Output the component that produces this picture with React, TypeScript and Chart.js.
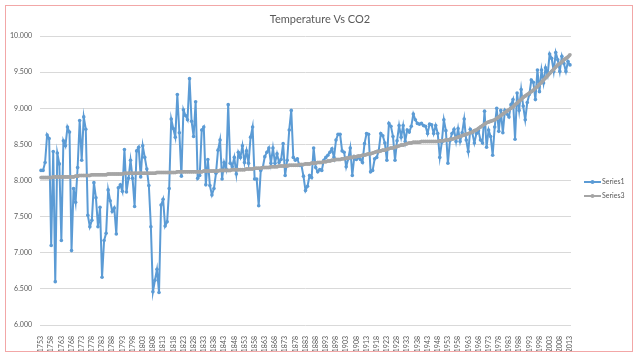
import React, { useEffect, useRef } from 'react';
import { Chart, registerables } from 'chart.js';

Chart.register(...registerables);

const START_YEAR = 1753;
const END_YEAR = 2013;
const years: string[] = [];
for (let y = START_YEAR; y <= END_YEAR; y++) years.push(String(y));

const TITLE = 'Temperature Vs CO2';
const SERIES1_LABEL = 'Series1';
const SERIES3_LABEL = 'Series3';

const yTicks = { min: 6, max: 10, step: 0.5 };

// Series1 (temperature)
const s1_1753_1786 = [
  8.14, 8.14, 8.25, 8.63, 8.58, 7.10, 8.40, 6.60, 8.38, 8.23,
  7.17, 8.55, 8.48, 8.74, 8.67, 7.03, 7.89, 7.70, 8.18, 8.83,
  8.28, 8.88, 8.71, 7.52, 7.36, 7.45, 7.97, 7.76, 7.36, 7.63,
  6.66, 7.17, 7.27, 7.87,
];
const s1_1787_1800 = [
  7.72, 7.57, 7.62, 7.26, 7.90, 7.94, 7.85, 8.43, 7.84, 8.03,
  8.28, 8.03, 7.64, 8.41,
];
const s1_1801_1853 = [
  8.46, 8.05, 8.48, 8.32, 8.16, 7.93, 7.36, 6.46, 6.62, 6.77,
  6.45, 7.66, 7.74, 7.37, 7.43, 7.89, 8.85, 8.72, 8.60, 9.19,
  8.66, 8.06, 8.98, 8.90, 8.84, 9.41, 8.82, 8.61, 9.09, 8.03,
  8.07, 8.70, 8.74, 7.94, 8.29, 7.93, 7.80, 7.89, 8.10, 8.42,
  8.56, 8.02, 8.25, 8.16, 9.05, 8.24, 8.19, 8.32, 8.09, 8.39,
  8.32, 8.48, 8.25,
];
const s1_1854_1905 = [
  8.41, 8.24, 8.60, 8.74, 8.02, 8.02, 7.65, 8.14, 8.18, 8.33,
  8.39, 8.45, 8.24, 8.45, 8.24, 8.37, 8.25, 8.29, 8.51, 8.07,
  8.28, 8.70, 8.97, 8.32, 8.28, 8.30, 8.21, 8.21, 8.06, 7.86,
  7.92, 8.07, 8.04, 8.45, 8.18, 8.12, 8.15, 8.14, 8.28, 8.32,
  8.35, 8.39, 8.44, 8.32, 8.56, 8.64, 8.64, 8.41, 8.39, 8.19,
  8.30, 8.45,
];
const s1_1906_1956 = [
  8.07, 8.33, 8.29, 8.32, 8.29, 8.25, 8.51, 8.65, 8.64, 8.12,
  8.14, 8.30, 8.32, 8.41, 8.65, 8.62, 8.52, 8.28, 8.79, 8.75,
  8.61, 8.28, 8.55, 8.76, 8.60, 8.76, 8.54, 8.70, 8.67, 8.75,
  8.92, 8.84, 8.79, 8.78, 8.79, 8.76, 8.75, 8.65, 8.78, 8.77,
  8.65, 8.76, 8.65, 8.32, 8.53, 8.84, 8.69, 8.24, 8.55, 8.65,
  8.71,
];
const s1_1957_2013 = [
  8.54, 8.72, 8.54, 8.66, 8.85, 8.56, 8.40, 8.71, 8.66, 8.52,
  8.65, 8.69, 8.56, 8.52, 8.96, 8.46, 8.70, 8.61, 8.35, 8.74,
  9.00, 8.68, 8.97, 8.66, 8.97, 8.92, 8.88, 9.05, 9.12, 8.57,
  9.21, 8.97, 9.26, 9.03, 8.84, 9.08, 9.19, 9.39, 9.36, 9.12,
  9.53, 9.23, 9.53, 9.35, 9.56, 9.46, 9.75, 9.69, 9.51, 9.77,
  9.67, 9.51, 9.72, 9.62, 9.51, 9.65, 9.60,
];
const series1 = [
  ...s1_1753_1786, ...s1_1787_1800, ...s1_1801_1853,
  ...s1_1854_1905, ...s1_1906_1956, ...s1_1957_2013,
];

// Series3 (CO2 trend, scaled)
const s3_1753_1799 = [
  8.04, 8.04, 8.04, 8.04, 8.04, 8.04, 8.05, 8.05, 8.05, 8.05, 8.05, 8.05,
  8.05, 8.05, 8.05, 8.05, 8.05, 8.06, 8.06, 8.07, 8.07, 8.07, 8.07, 8.07, 8.07, 8.08, 8.08,
  8.08, 8.08, 8.08, 8.08, 8.08, 8.08, 8.09, 8.09, 8.09, 8.09, 8.09, 8.09, 8.09, 8.09, 8.10, 8.10, 8.10, 8.10, 8.10, 8.10,
];
const s3_1800_1859 = [
  8.10, 8.10, 8.10, 8.10, 8.10, 8.10, 8.10, 8.10, 8.10, 8.10,
  8.11, 8.11, 8.11, 8.11, 8.11, 8.11, 8.11, 8.11, 8.11, 8.11,
  8.12, 8.12, 8.12, 8.12, 8.12, 8.12, 8.12, 8.12, 8.12, 8.12,
  8.12, 8.12, 8.12, 8.13, 8.13, 8.13, 8.13, 8.13, 8.13, 8.13,
  8.13, 8.14, 8.14, 8.14, 8.14, 8.14, 8.14, 8.15, 8.15, 8.15,
  8.15, 8.15, 8.15, 8.15, 8.16, 8.16, 8.16, 8.16, 8.17, 8.17,
];
const s3_1860_1909 = [
  8.17, 8.17, 8.18, 8.18, 8.18, 8.18, 8.19, 8.19, 8.19, 8.19,
  8.20, 8.20, 8.20, 8.20, 8.20, 8.21, 8.21, 8.21, 8.21, 8.21,
  8.22, 8.22, 8.22, 8.23, 8.23, 8.23, 8.24, 8.24, 8.24, 8.25,
  8.25, 8.25, 8.26, 8.26, 8.27, 8.27, 8.28, 8.28, 8.29, 8.29,
  8.29, 8.30, 8.30, 8.31, 8.31, 8.32, 8.32, 8.33, 8.33, 8.34,
];
const s3_1910_1969 = [
  8.34, 8.35, 8.35, 8.36, 8.37, 8.37, 8.38, 8.39, 8.40, 8.40,
  8.41, 8.42, 8.42, 8.43, 8.44, 8.45, 8.45, 8.46, 8.47, 8.48,
  8.49, 8.49, 8.50, 8.51, 8.52, 8.52, 8.53, 8.53, 8.53, 8.53,
  8.54, 8.54, 8.54, 8.54, 8.54, 8.54, 8.54, 8.54, 8.54, 8.55,
  8.55, 8.55, 8.56, 8.56, 8.57, 8.57, 8.58, 8.59, 8.60, 8.61,
  8.62, 8.63, 8.64, 8.65, 8.66, 8.67, 8.69, 8.70, 8.72, 8.74,
];
const s3_1970_2013 = [
  8.76, 8.78, 8.80, 8.81, 8.82, 8.83, 8.84, 8.86, 8.88, 8.90,
  8.92, 8.94, 8.96, 8.98, 9.00, 9.02, 9.05, 9.07, 9.10, 9.12,
  9.15, 9.17, 9.19, 9.21, 9.23, 9.25, 9.28, 9.30, 9.33, 9.36,
  9.39, 9.42, 9.45, 9.48, 9.51, 9.54, 9.57, 9.60, 9.62, 9.64,
  9.67, 9.69, 9.71, 9.74,
];
const series3 = [
  ...s3_1753_1799, ...s3_1800_1859, ...s3_1860_1909, ...s3_1910_1969, ...s3_1970_2013,
];

const BLUE = '#5B9BD5';
const GRAY = '#A5A5A5';
const TEXT = '#595959';
const FONT = 'Lato, "Open Sans", sans-serif';

const overlayPlugin = {
  id: 'overlay',
  afterDraw(chart: any) {
    const { ctx, chartArea } = chart;
    ctx.save();
    // title
    ctx.fillStyle = TEXT;
    ctx.font = `11px ${FONT}`;
    ctx.textAlign = 'center';
    ctx.textBaseline = 'middle';
    ctx.fillText(TITLE, chart.width / 2, 19);
    // legend
    const items = [
      { label: SERIES1_LABEL, color: BLUE, w: 2 },
      { label: SERIES3_LABEL, color: GRAY, w: 2 },
    ];
    const lx = chartArea.right + 13;
    items.forEach((it, k) => {
      const y = 182 + k * 14;
      ctx.strokeStyle = it.color;
      ctx.lineWidth = it.w;
      ctx.beginPath();
      ctx.moveTo(lx, y);
      ctx.lineTo(lx + 17, y);
      ctx.stroke();
      ctx.fillStyle = it.color;
      ctx.beginPath();
      ctx.arc(lx + 8.5, y, 2, 0, Math.PI * 2);
      ctx.fill();
      ctx.fillStyle = TEXT;
      ctx.font = `7px ${FONT}`;
      ctx.textAlign = 'left';
      ctx.textBaseline = 'middle';
      ctx.fillText(it.label, lx + 18, y);
    });
    ctx.restore();
  },
};

export default function App() {
  const ref = useRef<HTMLCanvasElement>(null);
  useEffect(() => {
    if (!ref.current) return;
    const chart = new Chart(ref.current, {
      type: 'line',
      data: {
        labels: years,
        datasets: [
          {
            label: SERIES1_LABEL,
            data: series1,
            borderColor: BLUE,
            backgroundColor: BLUE,
            borderWidth: 2,
            pointRadius: 1.8,
            pointBorderWidth: 0,
            pointBackgroundColor: BLUE,
            tension: 0,
            order: 2,
          },
          {
            label: SERIES3_LABEL,
            data: series3,
            borderColor: GRAY,
            backgroundColor: GRAY,
            borderWidth: 3.5,
            pointRadius: 1.8,
            pointBorderWidth: 0,
            pointBackgroundColor: GRAY,
            tension: 0,
            order: 1,
          },
        ],
      },
      options: {
        responsive: false,
        animation: false,
        devicePixelRatio: 1,
        layout: { padding: { left: 0, right: 69, top: 36, bottom: 0 } },
        plugins: {
          legend: { display: false },
          title: { display: false },
          tooltip: { enabled: false },
        },
        scales: {
          x: {
            type: 'category',
            offset: true,
            grid: { display: false },
            border: { display: false },
            ticks: {
              autoSkip: false,
              minRotation: 90,
              maxRotation: 90,
              padding: 3,
              color: TEXT,
              font: { size: 7, family: FONT },
              callback: (_v: any, i: number) => (i % 5 === 0 ? years[i] : ''),
            },
            afterFit: (s: any) => { s.height = 33; },
          },
          y: {
            min: yTicks.min,
            max: yTicks.max,
            grid: { color: '#D9D9D9', drawTicks: false, lineWidth: 1 },
            border: { display: false },
            ticks: {
              stepSize: yTicks.step,
              padding: 8,
              color: TEXT,
              font: { size: 7, family: FONT },
              callback: (v: any) => Number(v).toFixed(3),
            },
            afterFit: (s: any) => { s.width = 40; },
          },
        },
      },
      plugins: [overlayPlugin],
    });
    return () => chart.destroy();
  }, []);
  return (
    <div style={{ position: 'fixed', left: 0, top: 0, width: 640, height: 358, background: '#fff' }}>
      <canvas ref={ref} width={640} height={358} style={{ display: 'block' }} />
      <div
        style={{
          position: 'absolute', left: 5, top: 5, width: 626, height: 345,
          border: '1px solid #F2A7A7', pointerEvents: 'none',
        }}
      />
    </div>
  );
}
